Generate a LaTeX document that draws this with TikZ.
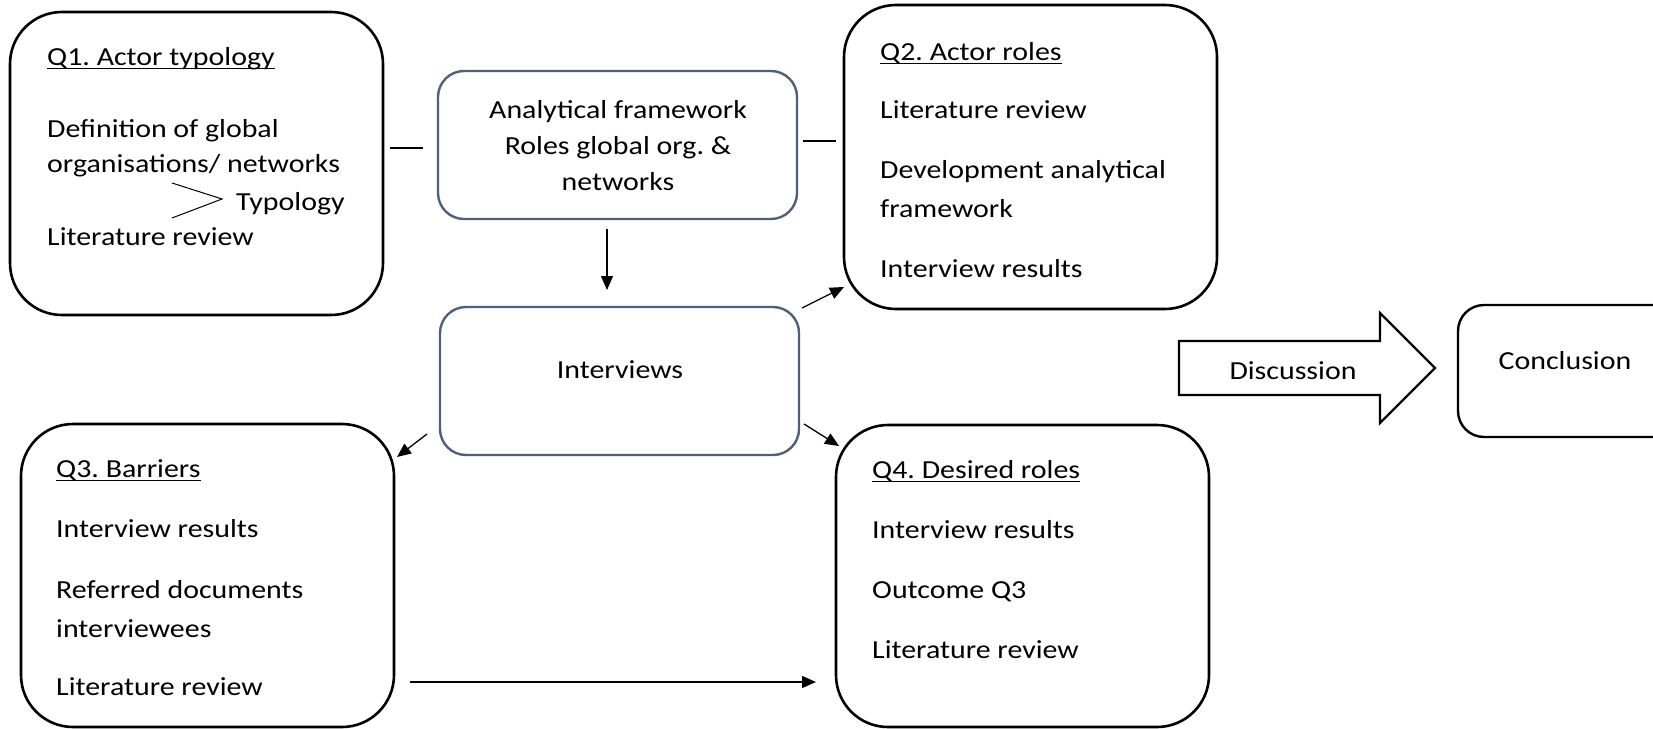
\documentclass[tikz,border=0pt]{standalone}
\usepackage{fontspec}
\setmainfont{Carlito}[FakeStretch=1.15]
\usetikzlibrary{arrows.meta}
\definecolor{slate}{HTML}{50607A}
\frenchspacing
\newcommand\myul[1]{\setbox0\hbox{#1}\rlap{\rule[-4pt]{\wd0}{1.4pt}}\box0}
\begin{document}
\begin{tikzpicture}[x=1pt,y=-1pt,
  qbox/.style={draw=black,line width=2.6pt,rounded corners=52pt,inner sep=0pt},
  sbox/.style={draw=slate,line width=2.4pt,rounded corners=26pt,inner sep=0pt},
  cbox/.style={draw=black,line width=2.4pt,rounded corners=26pt,inner sep=0pt},
  txt/.style={anchor=base west,inner sep=0pt,font=\fontsize{26}{31}\selectfont},
  ctxt/.style={anchor=base,inner sep=0pt,font=\fontsize{26}{31}\selectfont},
  conn/.style={line width=1.3pt},
  arr/.style={line width=1.3pt,-{Triangle[length=14pt,width=12pt]}}]
\clip (0,0) rectangle (1653,728);
\useasboundingbox (0,0) rectangle (1653,728);
% boxes
\node[qbox,minimum width=373pt,minimum height=303pt] (q1) at (196.5,163.5) {};
\node[qbox,minimum width=373pt,minimum height=304pt] (q2) at (1030.5,157) {};
\node[qbox,minimum width=373pt,minimum height=303pt] (q3) at (207.5,575.5) {};
\node[qbox,minimum width=373pt,minimum height=302pt] (q4) at (1022.5,576) {};
\node[sbox,minimum width=359pt,minimum height=148pt] (af) at (617.5,145) {};
\node[sbox,minimum width=359pt,minimum height=148pt] (iv) at (619.5,381) {};
\node[cbox,minimum width=250pt,minimum height=132pt] (cc) at (1583,371) {};
% Q1 text
\node[txt] (q1t) at (47,65) {\myul{Q1. Actor typology}};
\node[txt] (q1a) at (47,137) {Definition of global};
\node[txt] (q1b) at (47,172) {organisations/ networks};
\node[txt] (q1c) at (236,210) {Typology};
\node[txt] (q1d) at (47,245) {Literature review};
\coordinate (g1) at (172,183);
\coordinate (g2) at (222,199);
\coordinate (g3) at (172,218);
\draw[line width=1pt] (g1) -- (g2) -- (g3);
% AF text
\node[ctxt] (af1) at (618,118) {Analytical framework};
\node[ctxt] (af2) at (618,154) {Roles global org. \&};
\node[ctxt] (af3) at (618,190) {networks};
\node[ctxt] (ivt) at (620,378) {Interviews};
% Q2 text
\node[txt] (q2t) at (880,60) {\myul{Q2. Actor roles}};
\node[txt] (q2a) at (880,118) {Literature review};
\node[txt] (q2b) at (880,178) {Development analytical};
\node[txt] (q2c) at (880,217) {framework};
\node[txt] (q2d) at (880,277) {Interview results};
% Q3 text
\node[txt] (q3t) at (56,477) {\myul{Q3. Barriers}};
\node[txt] (q3a) at (56,537) {Interview results};
\node[txt] (q3b) at (56,598) {Referred documents};
\node[txt] (q3c) at (56,637) {interviewees};
\node[txt] (q3d) at (56,695) {Literature review};
% Q4 text
\node[txt] (q4t) at (872,478) {\myul{Q4. Desired roles}};
\node[txt] (q4a) at (872,538) {Interview results};
\node[txt] (q4b) at (872,598) {Outcome Q3};
\node[txt] (q4c) at (872,658) {Literature review};
% discussion arrow
\draw[line width=2.4pt,line join=miter] (1179,341) -- (1380,341) -- (1380,313) -- (1435,368) -- (1380,423) -- (1380,395) -- (1179,395) -- cycle;
\node[ctxt] (dt) at (1293,379) {Discussion};
\node[ctxt] (ct) at (1565,369) {Conclusion};
% connectors
\coordinate (l1a) at (390,148); \coordinate (l1b) at (423,148);
\draw[conn] (l1a) -- (l1b);
\coordinate (l2a) at (803,141); \coordinate (l2b) at (836,141);
\draw[conn] (l2a) -- (l2b);
\coordinate (d1) at (607,229); \coordinate (d2) at (607,290);
\draw[arr] (d1) -- (d2);
\coordinate (a2s) at (802,308); \coordinate (a2e) at (844,287);
\draw[arr] (a2s) -- (a2e);
\coordinate (a4s) at (804,424); \coordinate (a4e) at (839,446);
\draw[arr] (a4s) -- (a4e);
\coordinate (a3s) at (427,434); \coordinate (a3e) at (397,457);
\draw[arr] (a3s) -- (a3e);
\coordinate (a5s) at (410,682); \coordinate (a5e) at (816,682);
\draw[arr] (a5s) -- (a5e);
\end{tikzpicture}
\end{document}
